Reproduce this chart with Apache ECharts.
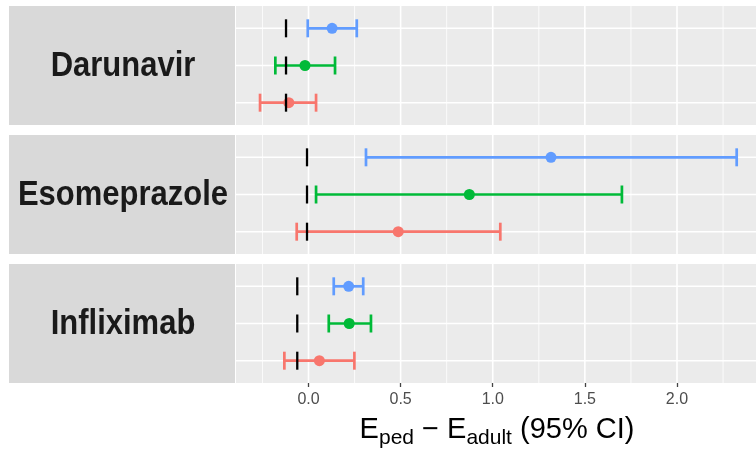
<!DOCTYPE html>
<html>
<head>
<meta charset="utf-8">
<script src="https://cdn.jsdelivr.net/npm/echarts@6/dist/echarts.min.js"></script>
<style>
html,body{margin:0;padding:0;background:#fff;}
#chart{width:756px;height:449px;}
</style>
</head>
<body>
<div id="chart"></div>
<script>
// ---- data ----
var drugs = ['Darunavir', 'Esomeprazole', 'Infliximab'];
// rows per panel, bottom to top
var groupColors = ['#F8766D', '#00BA38', '#619CFF'];
var estimate = [
  [-0.107, -0.019, 0.128],
  [0.487, 0.873, 1.316],
  [0.059, 0.221, 0.218]
];
var lower = [
  [-0.263, -0.180, -0.004],
  [-0.064, 0.041, 0.312],
  [-0.131, 0.110, 0.137]
];
var upper = [
  [0.041, 0.144, 0.262],
  [1.041, 1.701, 2.324],
  [0.249, 0.339, 0.297]
];
var refValue = [-0.122, -0.008, -0.061];
var majorTicks = [0, 0.5, 1, 1.5, 2];
var minorTicks = [-0.25, 0.25, 0.75, 1.25, 1.75, 2.25];
var xMin = -0.3935, xMax = 2.4288;
var yMin = 0.4, yMax = 3.6;

// ---- layout ----
var FONT = 'Liberation Sans, Arial, sans-serif';
var panelTops = [6, 135, 264];
var panelH = 119;
var panelLeft = 236;

var grids = [], xAxes = [], yAxes = [], series = [], graphics = [];

drugs.forEach(function (drug, i) {
  var isBottom = i === drugs.length - 1;
  grids.push({
    left: panelLeft, right: 0, top: panelTops[i], height: panelH,
    show: true, backgroundColor: '#EBEBEB', borderWidth: 0
  });
  xAxes.push({
    gridIndex: i, type: 'value', min: xMin, max: xMax,
    axisLine: { show: false },
    splitLine: { show: false },
    axisTick: isBottom ? { show: true, customValues: majorTicks, length: 4, lineStyle: { color: '#444', width: 1.3 } } : { show: false },
    axisLabel: isBottom ? {
      show: true, customValues: majorTicks, margin: 9,
      fontSize: 16, color: '#4D4D4D', fontFamily: FONT,
      formatter: function (v) { return v.toFixed(1); }
    } : { show: false }
  });
  yAxes.push({
    gridIndex: i, type: 'value', min: yMin, max: yMax, show: false
  });

  // vertical grid lines
  var vdata = majorTicks.map(function (v) { return [v, 2, 1]; })
    .concat(minorTicks.map(function (v) { return [v, 2, 0]; }));
  series.push({
    type: 'custom', xAxisIndex: i, yAxisIndex: i, silent: true, z: 1,
    data: vdata,
    renderItem: function (params, api) {
      var a = api.coord([api.value(0), yMin]);
      var b = api.coord([api.value(0), yMax]);
      var major = api.value(2) === 1;
      return { type: 'line', shape: { x1: a[0], y1: a[1], x2: b[0], y2: b[1] },
        style: { stroke: '#FFFFFF', lineWidth: major ? 1.6 : 0.8 } };
    }
  });
  // horizontal grid lines at rows
  series.push({
    type: 'custom', xAxisIndex: i, yAxisIndex: i, silent: true, z: 1,
    data: [[0, 1], [0, 2], [0, 3]],
    renderItem: function (params, api) {
      var a = api.coord([xMin, api.value(1)]);
      var b = api.coord([xMax, api.value(1)]);
      return { type: 'line', shape: { x1: a[0], y1: a[1], x2: b[0], y2: b[1] },
        style: { stroke: '#FFFFFF', lineWidth: 1.6 } };
    }
  });
  // error bars with points
  var edata = estimate[i].map(function (e, g) {
    return [lower[i][g], e, upper[i][g], g + 1, g];
  });
  series.push({
    type: 'custom', xAxisIndex: i, yAxisIndex: i, silent: true, z: 3,
    data: edata,
    encode: { x: [0, 1, 2], y: 3 },
    renderItem: function (params, api) {
      var row = api.value(3);
      var col = groupColors[api.value(4)];
      var lo = api.coord([api.value(0), row]);
      var est = api.coord([api.value(1), row]);
      var hi = api.coord([api.value(2), row]);
      var h = 9, lw = 2.7;
      return { type: 'group', children: [
        { type: 'line', shape: { x1: lo[0], y1: lo[1], x2: hi[0], y2: hi[1] }, style: { stroke: col, lineWidth: lw } },
        { type: 'line', shape: { x1: lo[0], y1: lo[1] - h, x2: lo[0], y2: lo[1] + h }, style: { stroke: col, lineWidth: lw } },
        { type: 'line', shape: { x1: hi[0], y1: hi[1] - h, x2: hi[0], y2: hi[1] + h }, style: { stroke: col, lineWidth: lw } },
        { type: 'circle', shape: { cx: est[0], cy: est[1], r: 5.5 }, style: { fill: col } }
      ] };
    }
  });
  // reference marks
  series.push({
    type: 'custom', xAxisIndex: i, yAxisIndex: i, silent: true, z: 4,
    data: [[refValue[i], 1], [refValue[i], 2], [refValue[i], 3]],
    renderItem: function (params, api) {
      var p = api.coord([api.value(0), api.value(1)]);
      return { type: 'line', shape: { x1: p[0], y1: p[1] - 9, x2: p[0], y2: p[1] + 9 },
        style: { stroke: '#000000', lineWidth: 2.3 } };
    }
  });

  // strip label
  graphics.push({
    type: 'rect', shape: { x: 9, y: panelTops[i], width: 226, height: panelH },
    style: { fill: '#D9D9D9' }, silent: true
  });
  graphics.push({
    type: 'text', x: 123, y: panelTops[i] + panelH / 2 + 1, scaleY: 1.12,
    style: { text: drug, fontSize: 31, fontWeight: 'bold', fontFamily: FONT,
      fill: '#1A1A1A', align: 'center', verticalAlign: 'middle' },
    silent: true
  });
});

// axis title with subscripts
graphics.push({
  type: 'text', x: 497, y: 415,
  style: {
    text: '{m|E}{s|ped}{m| \u2212 E}{s|adult}{m| (95% CI)}',
    align: 'center', verticalAlign: 'top', fill: '#000',
    rich: {
      m: { fontSize: 29, fontFamily: FONT, fill: '#000', verticalAlign: 'top', lineHeight: 31 },
      s: { fontSize: 21, fontFamily: FONT, fill: '#000', verticalAlign: 'top', padding: [13, 0, 0, 0] }
    }
  },
  silent: true
});

var chart = echarts.init(document.getElementById('chart'), null, { renderer: 'canvas' });
chart.setOption({
  animation: false,
  backgroundColor: '#FFFFFF',
  grid: grids,
  xAxis: xAxes,
  yAxis: yAxes,
  series: series,
  graphic: graphics
});
</script>
</body>
</html>
